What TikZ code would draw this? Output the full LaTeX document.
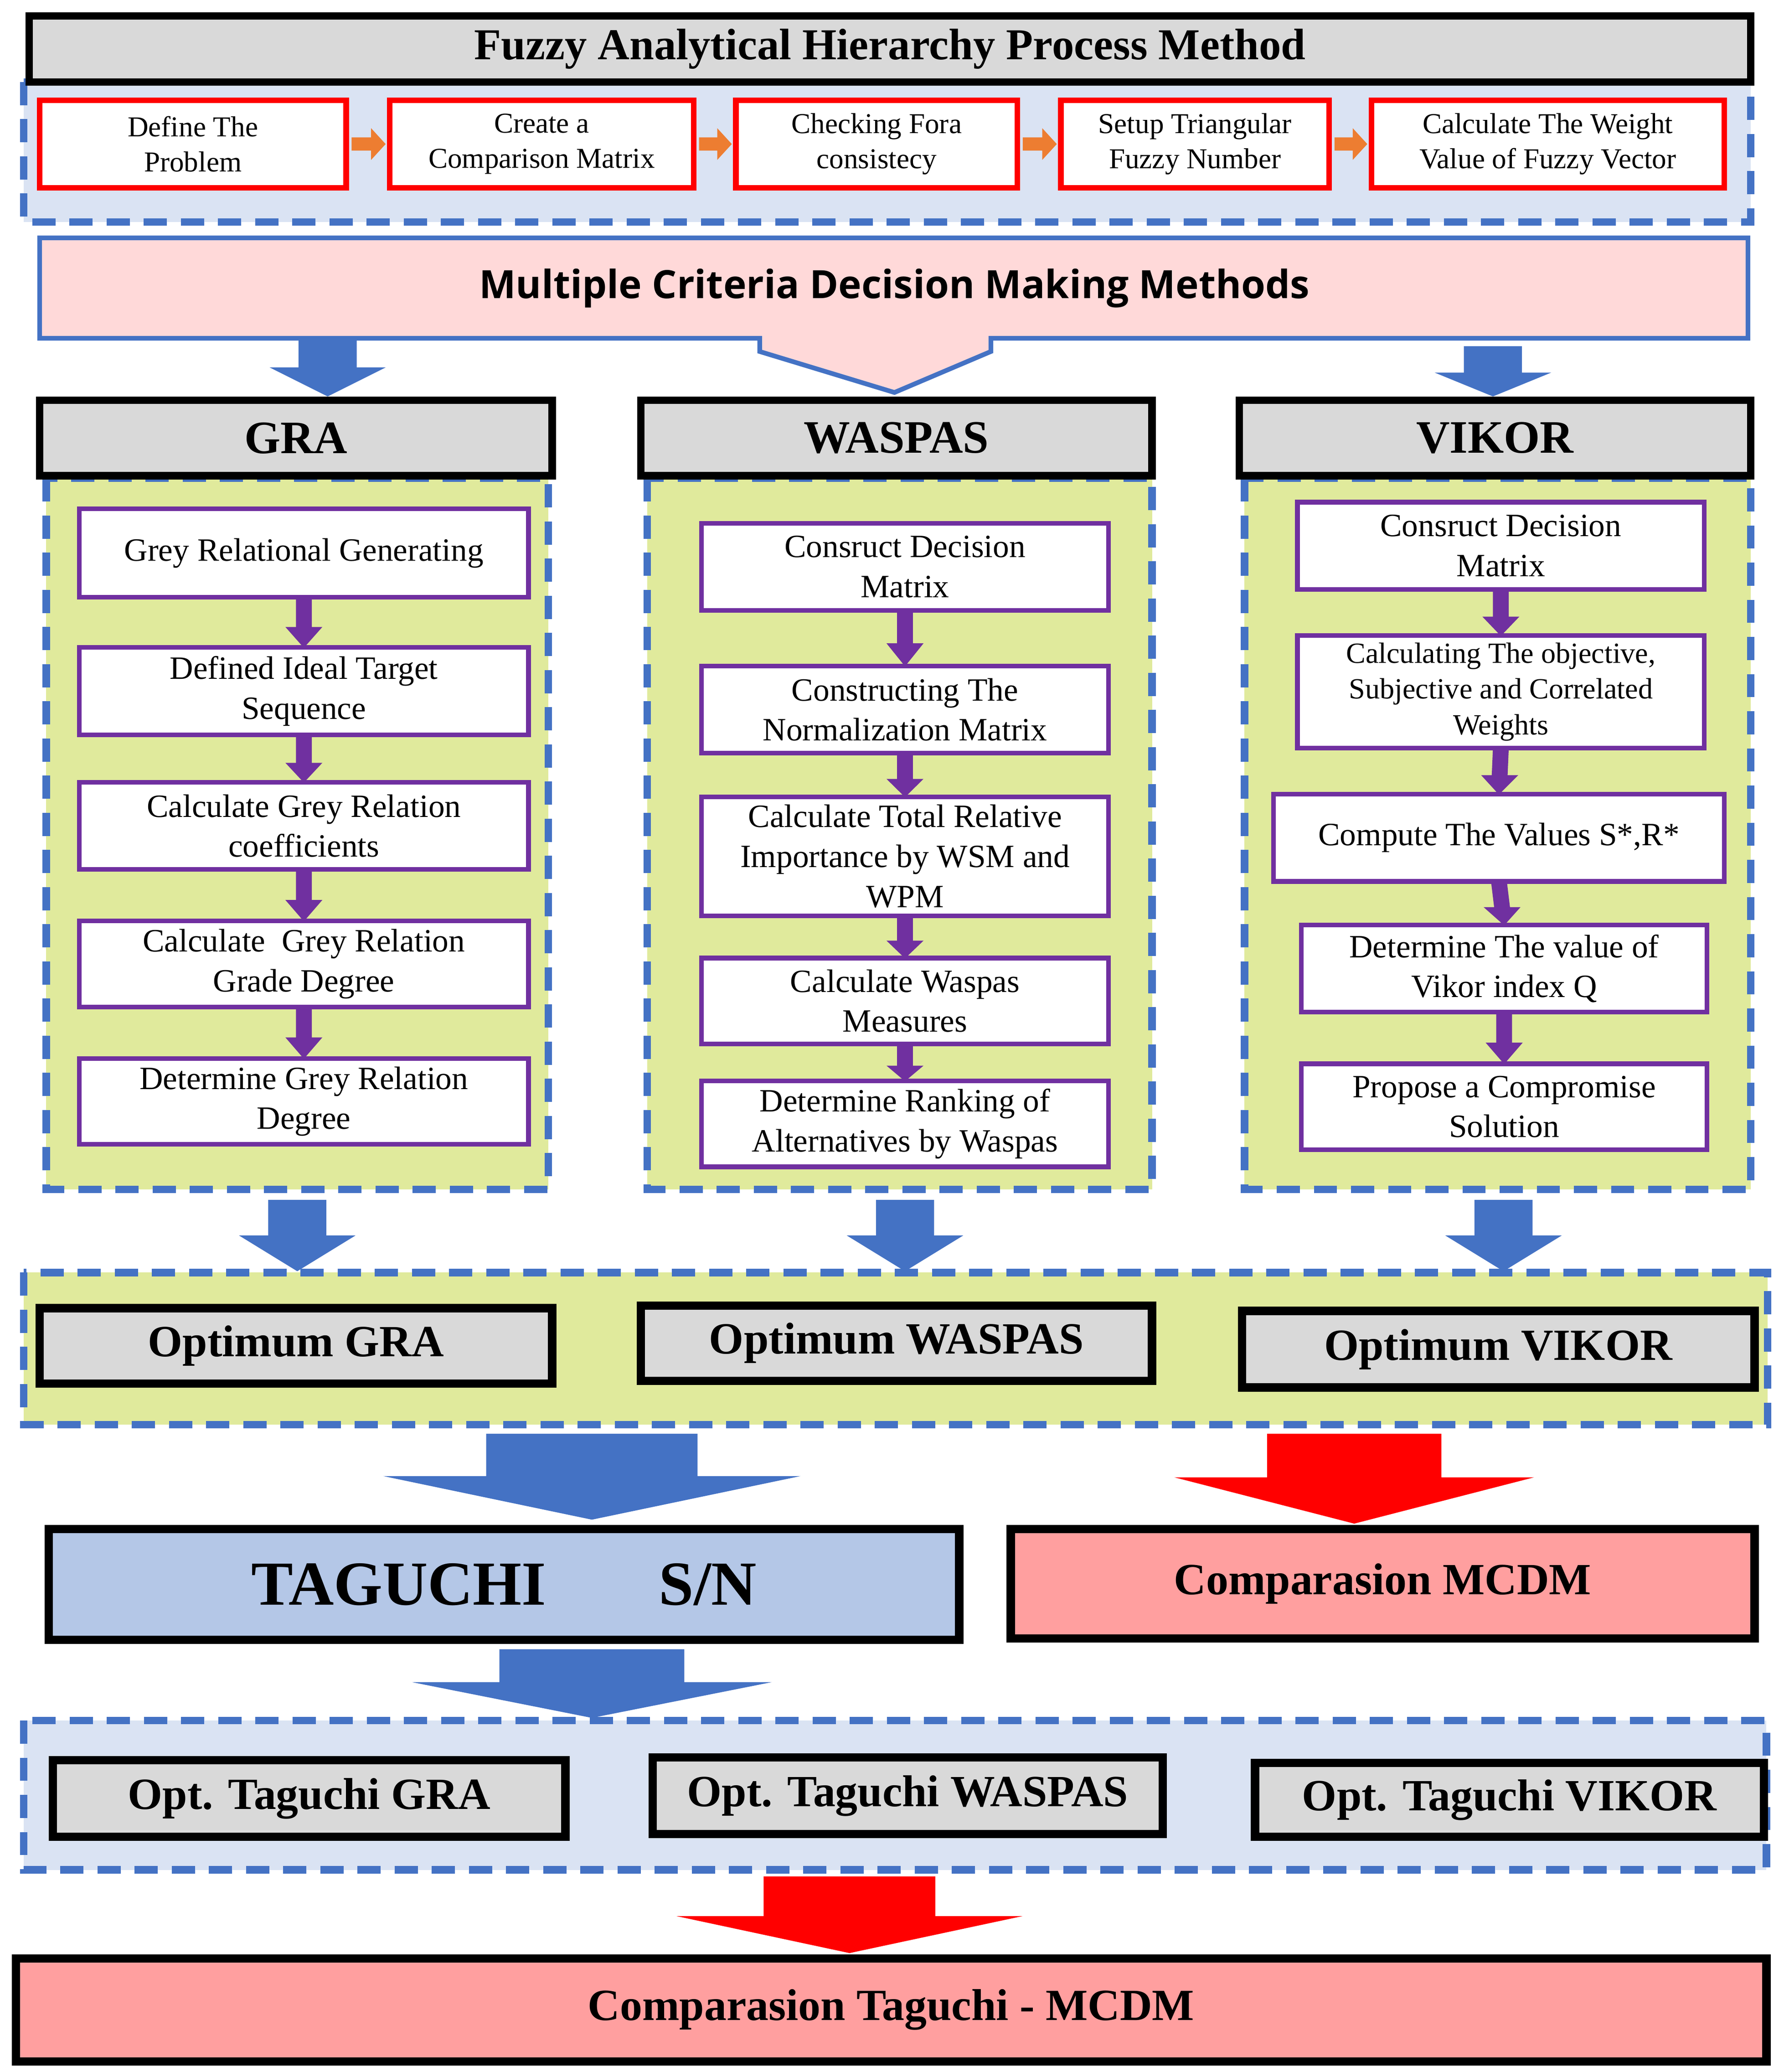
\documentclass[tikz,border=0pt]{standalone}
\usepackage{fontspec}
\setmainfont{Liberation Serif}
\newfontfamily\sansf{Open Sans}
\usetikzlibrary{calc}
\definecolor{bblue}{HTML}{4472C4}
\definecolor{purp}{HTML}{7030A0}
\definecolor{lgreen}{HTML}{E0EA9C}
\definecolor{lblue}{HTML}{DAE3F3}
\definecolor{tblue}{HTML}{B4C7E7}
\definecolor{pinkf}{HTML}{FFD9D9}
\definecolor{salm}{HTML}{FF9F9F}
\definecolor{grayf}{HTML}{D9D9D9}
\definecolor{orng}{HTML}{ED7D31}
\tikzset{
  head/.style={draw=black, line width=1.6pt, fill=grayf, font=\bfseries\fontsize{10}{12}\selectfont},
  fstep/.style={draw=red, line width=1.2pt, fill=white, align=center, font=\fontsize{6.2}{7.5}\selectfont},
  inbox/.style={draw=purp, line width=1pt, fill=white, align=center, font=\fontsize{7}{8.6}\selectfont},
  band/.style={draw=bblue, line width=1.6pt, dash pattern=on 5pt off 3pt},
  opt/.style={draw=black, line width=1.8pt, fill=grayf, font=\bfseries\fontsize{9.6}{11}\selectfont},
}
% box between two corners, named, in picture units
\newcommand\bx[7]{%
  \pgfmathsetmacro\bw{(#5-#3)*0.1}\pgfmathsetmacro\bh{(#6-#4)*0.1}%
  \node[#2, inner sep=0pt, minimum width=\bw mm, minimum height=\bh mm] (#1) at ({(#3+#5)/2},{(#4+#6)/2}) {#7};}
% block arrow: colour, x centre, shaft half width, head half width, shaft top, head base, tip
\newcommand\barr[7]{%
  \fill[#1] (#2-#3,#5) -- (#2+#3,#5) -- (#2+#3,#6) -- (#2+#4,#6) -- (#2,#7) -- (#2-#4,#6) -- (#2-#3,#6) -- cycle;}
% small purple arrow between two nodes
\newcommand\parrow[2]{%
  \path (#1.south) coordinate (pa) (#2.north) coordinate (pb);
  \fill[purp] ($(pa)+(-6,-2)$) -- ($(pa)+(6,-2)$) -- ($(pb)!0.4!(pa)+(6,0)$) -- ($(pb)!0.4!(pa)+(14,0)$) -- ($(pb)+(0,2)$) -- ($(pb)!0.4!(pa)+(-14,0)$) -- ($(pb)!0.4!(pa)+(-6,0)$) -- cycle;}
\begin{document}
\begin{tikzpicture}[x=0.1mm,y=-0.1mm]
\useasboundingbox (0,0) rectangle (1350,1568);
% fuzzy AHP
\fill[lblue] (18,62) rectangle (1325,168);
\draw[band] (18,62) rectangle (1325,168);
\bx{fahp}{head, font=\bfseries\fontsize{9.5}{11}\selectfont}{22}{12}{1325}{62}{Fuzzy Analytical Hierarchy Process Method}
\bx{s1}{fstep}{30}{76}{262}{142}{Define The\\Problem}
\bx{s2}{fstep}{295}{76}{525}{142}{Create a\\Comparison Matrix}
\bx{s3}{fstep}{557}{76}{770}{142}{Checking Fora\\consistecy}
\bx{s4}{fstep}{803}{76}{1006}{142}{Setup Triangular\\Fuzzy Number}
\bx{s5}{fstep}{1038}{76}{1305}{142}{Calculate The Weight\\Value of Fuzzy Vector}
\foreach \a/\b in {s1/s2,s2/s3,s3/s4,s4/s5}{
  \path (\a.east) coordinate (oa) (\b.west) coordinate (ob);
  \fill[orng] ($(oa)+(2,-5)$) -- ($(ob)+(-12,-5)$) -- ($(ob)+(-12,-12)$) -- ($(ob)+(-1,0)$) -- ($(ob)+(-12,12)$) -- ($(ob)+(-12,5)$) -- ($(oa)+(2,5)$) -- cycle;}
% MCDM
\draw[bblue, line width=1pt, fill=pinkf] (30,180) -- (1323,180) -- (1323,256) -- (750,256) -- (750,266) -- (677,297) -- (575,266) -- (575,256) -- (30,256) -- cycle;
\node[font=\sansf\bfseries\fontsize{8.4}{10}\selectfont] (mcdm) at (677,218) {Multiple Criteria Decision Making Methods};
\barr{bblue}{248}{22}{44}{256}{278}{300}
\barr{bblue}{1130}{22}{44}{262}{282}{300}
% columns
\foreach \xa/\xb in {35/415,490/872,942/1325}{
  \fill[lgreen] (\xa,362) rectangle (\xb,900);
  \draw[band] (\xa,362) rectangle (\xb,900);}
\bx{gra}{head}{30}{303}{418}{360}{GRA}
\bx{was}{head}{485}{303}{872}{360}{WASPAS}
\bx{vik}{head}{938}{303}{1325}{360}{VIKOR}
\bx{g1}{inbox}{60}{385}{400}{452}{Grey Relational Generating}
\bx{g2}{inbox}{60}{490}{400}{556}{Defined Ideal Target\\Sequence}
\bx{g3}{inbox}{60}{592}{400}{658}{Calculate Grey Relation\\coefficients}
\bx{g4}{inbox}{60}{697}{400}{762}{Calculate\ \ Grey Relation\\Grade Degree}
\bx{g5}{inbox}{60}{801}{400}{866}{Determine Grey Relation\\Degree}
\bx{w1}{inbox}{531}{396}{839}{462}{Consruct Decision\\Matrix}
\bx{w2}{inbox}{531}{504}{839}{570}{Constructing The\\Normalization Matrix}
\bx{w3}{inbox}{531}{603}{839}{693}{Calculate Total Relative\\Importance by WSM and\\WPM}
\bx{w4}{inbox}{531}{725}{839}{790}{Calculate Waspas\\Measures}
\bx{w5}{inbox}{531}{818}{839}{883}{Determine Ranking of\\Alternatives by Waspas}
\bx{v1}{inbox}{982}{380}{1290}{446}{Consruct Decision\\Matrix}
\bx{v2}{inbox, font=\fontsize{6.3}{7.7}\selectfont}{982}{481}{1290}{566}{Calculating The objective,\\Subjective and Correlated\\Weights}
\bx{v3}{inbox}{964}{601}{1305}{667}{Compute The Values S*,R*}
\bx{v4}{inbox}{985}{700}{1292}{766}{Determine The value of\\Vikor index Q}
\bx{v5}{inbox}{985}{805}{1292}{870}{Propose a Compromise\\Solution}
\foreach \c in {g,w,v}{
  \foreach \i [evaluate=\i as \j using int(\i+1)] in {1,...,4}{\parrow{\c\i}{\c\j}}}
\barr{bblue}{225}{22}{44}{908}{935}{962}
\barr{bblue}{685}{22}{44}{908}{935}{962}
\barr{bblue}{1138}{22}{44}{908}{935}{962}
% optimum band
\fill[lgreen] (18,963) rectangle (1338,1078);
\draw[band] (18,963) rectangle (1338,1078);
\bx{ogra}{opt}{30}{990}{418}{1047}{Optimum GRA}
\bx{owas}{opt}{485}{988}{872}{1045}{Optimum WASPAS}
\bx{ovik}{opt}{940}{992}{1328}{1050}{Optimum VIKOR}
\barr{bblue}{448}{80}{158}{1085}{1117}{1150}
\barr{red}{1025}{66}{136}{1085}{1118}{1153}
\bx{tag}{opt, fill=tblue, font=\bfseries\fontsize{13.5}{16}\selectfont}{37}{1157}{726}{1241}{TAGUCHI\hspace{1.8em}S/N}
\bx{cmp}{opt, fill=salm}{765}{1157}{1328}{1240}{Comparasion MCDM}
\barr{bblue}{448}{70}{136}{1248}{1273}{1300}
% taguchi band
\fill[lblue] (18,1302) rectangle (1337,1415);
\draw[band] (18,1302) rectangle (1337,1415);
\bx{tgra}{opt}{40}{1332}{428}{1390}{Opt. Taguchi GRA}
\bx{twas}{opt}{494}{1330}{880}{1388}{Opt. Taguchi WASPAS}
\bx{tvik}{opt}{950}{1334}{1335}{1390}{Opt. Taguchi VIKOR}
\barr{red}{643}{65}{131}{1420}{1450}{1478}
\bx{fin}{opt, fill=salm}{12}{1482}{1337}{1560}{Comparasion Taguchi - MCDM}
\end{tikzpicture}
\end{document}
